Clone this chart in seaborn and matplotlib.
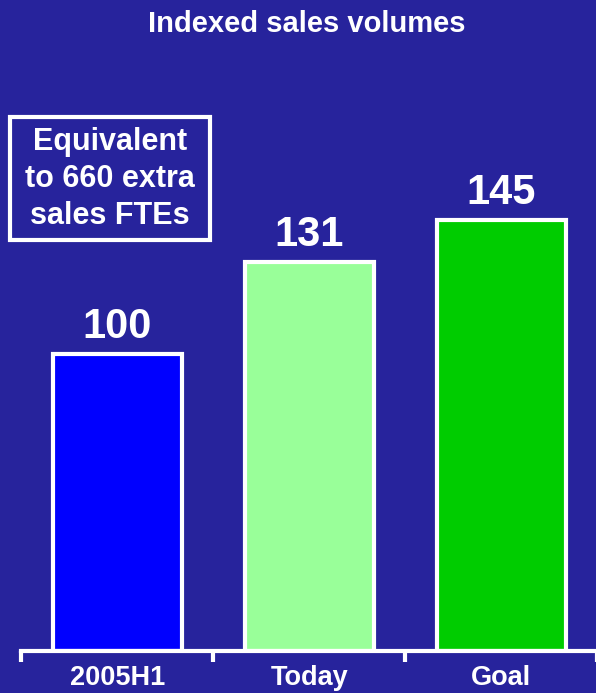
import matplotlib
matplotlib.use("Agg")
import matplotlib.pyplot as plt
from matplotlib.patches import Rectangle
import seaborn as sns
import pandas as pd

categories = ["2005H1", "Today", "Goal"]
values = [100, 131, 145]
bar_colors = ["#0000ff", "#99ff99", "#00cc00"]
title = "Indexed sales volumes"
note = "Equivalent\nto 660 extra\nsales FTEs"

bg = "#27239c"
sns.set_theme(style="white")
plt.rcParams["font.family"] = ["Liberation Sans", "DejaVu Sans"]

df = pd.DataFrame({"period": categories, "index": values})

fig = plt.figure(figsize=(5.96, 6.93), dpi=100, facecolor=bg)
ax = fig.add_axes([0.036, 0.061, 0.966, 0.79])
ax.set_facecolor(bg)

sns.barplot(data=df, x="period", y="index", hue="period", palette=bar_colors,
            order=categories, hue_order=categories, legend=False,
            width=0.67, edgecolor="white", linewidth=3, saturation=1, ax=ax)

for i, v in enumerate(values):
    ax.text(i, v + 2.5, str(v), ha="center", va="bottom", color="white",
            fontsize=30, fontweight="bold")

ax.set_xlim(-0.5, 2.5)
ax.set_ylim(0, 184.5)
ax.set_xlabel("")
ax.set_ylabel("")
ax.set_yticks([])
for s in ["top", "right", "left"]:
    ax.spines[s].set_visible(False)
ax.spines["bottom"].set_color("white")
ax.spines["bottom"].set_linewidth(3)

ax.set_xticks([0, 1, 2])
ax.set_xticklabels(categories, color="white", fontsize=19.5, fontweight="bold")
ax.set_xticks([-0.5, 0.5, 1.5, 2.5], minor=True)
ax.tick_params(axis="x", which="both", bottom=True)
ax.tick_params(axis="x", which="major", length=0, pad=10)
ax.tick_params(axis="x", which="minor", direction="out", length=8, width=3,
               color="white")

fig.text(0.515, 0.966, title, ha="center", va="center", color="white",
         fontsize=21, fontweight="bold")

# framed note to the upper left of the bars
fig.add_artist(Rectangle((0.0168, 0.6537), 0.3356, 0.1775,
                         transform=fig.transFigure, facecolor="none",
                         edgecolor="white", linewidth=3))
fig.text(0.1846, 0.7417, note, ha="center", va="center", color="white",
         fontsize=22, fontweight="bold", linespacing=1.3)

fig.savefig("out.png", dpi=100, facecolor=bg)
